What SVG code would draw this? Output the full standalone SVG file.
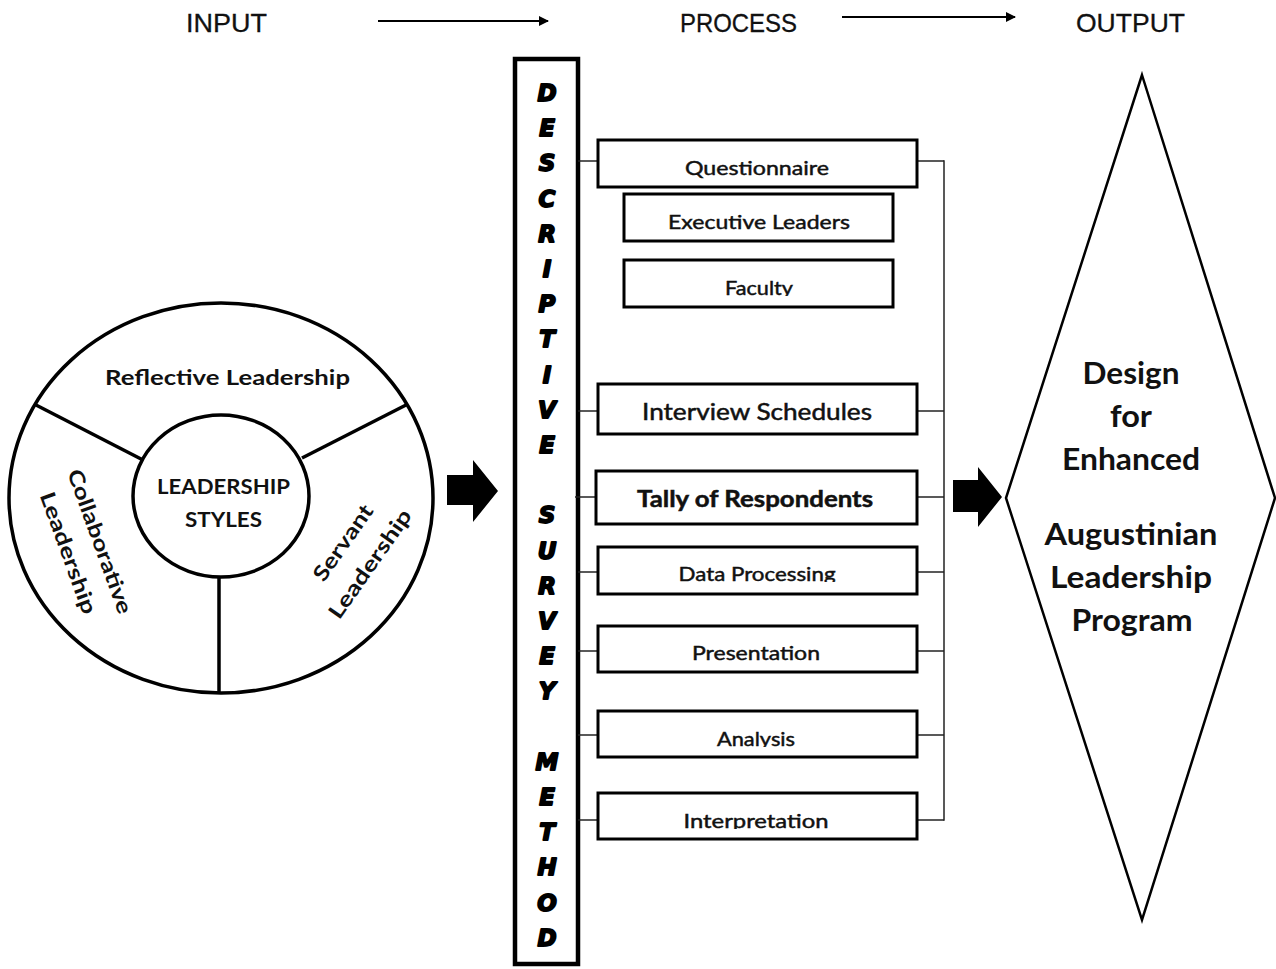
<svg xmlns="http://www.w3.org/2000/svg" width="1276" height="969" viewBox="0 0 1276 969">
<style>
.hdr{font-family:"Liberation Sans",Arial,sans-serif;font-size:26px;fill:#111;stroke:#111;stroke-width:0.3}
.box{fill:#fff;stroke:#000;stroke-width:3}
.bt{font-family:Lato,"Open Sans",sans-serif;font-size:19px;fill:#111;stroke:#111;stroke-width:0.45;text-anchor:middle}
.bt2{font-family:Lato,"Open Sans",sans-serif;font-size:23px;fill:#111;stroke:#111;stroke-width:0.5;text-anchor:middle}
.ct{font-family:Lato,"Open Sans",sans-serif;font-size:21px;font-weight:700;fill:#111;text-anchor:middle}
.dt{font-family:Lato,"Open Sans",sans-serif;font-size:30px;font-weight:700;fill:#111;text-anchor:middle}
.vl{font-family:"DejaVu Sans",sans-serif;font-size:23px;font-weight:bold;font-style:oblique;fill:#000;stroke:#000;stroke-width:1.8;stroke-linejoin:round;text-anchor:middle}
.ln{stroke:#222;stroke-width:1.5;fill:none}
.sh{fill:none;stroke:#000;stroke-width:3.5}
</style>
<defs>
<marker id="ah" viewBox="0 0 10 10" refX="9" refY="5" markerWidth="5" markerHeight="5" orient="auto" markerUnits="strokeWidth">
<path d="M0,0 L10,5 L0,10 z" fill="#000"/>
</marker>
<clipPath id="cFac"><rect x="600" y="262" width="300" height="34"/></clipPath>
<clipPath id="cData"><rect x="600" y="549" width="300" height="33"/></clipPath>
<clipPath id="cAna"><rect x="600" y="713" width="300" height="34"/></clipPath>
<clipPath id="cInt"><rect x="600" y="795" width="300" height="34"/></clipPath>
</defs>

<g id="header">
<text class="hdr" x="186" y="32" textLength="81" lengthAdjust="spacingAndGlyphs">INPUT</text>
<text class="hdr" x="680" y="32" textLength="117" lengthAdjust="spacingAndGlyphs">PROCESS</text>
<text class="hdr" x="1076" y="32" textLength="109" lengthAdjust="spacingAndGlyphs">OUTPUT</text>
<line x1="378" y1="21" x2="548" y2="21" stroke="#000" stroke-width="2" marker-end="url(#ah)"/>
<line x1="842" y1="17" x2="1015" y2="17" stroke="#000" stroke-width="2" marker-end="url(#ah)"/>
</g>

<g id="leadership-styles">
<ellipse class="sh" cx="221" cy="498" rx="212" ry="195"/>
<line class="sh" x1="36" y1="405" x2="143" y2="460"/>
<line class="sh" x1="406" y1="405" x2="302" y2="458"/>
<line class="sh" x1="219" y1="577" x2="219" y2="692"/>
<ellipse class="sh" cx="221" cy="496" rx="88" ry="81" fill="#fff"/>
<text class="ct" x="227.5" y="385" textLength="245" lengthAdjust="spacingAndGlyphs">Reflective Leadership</text>
<text class="ct" x="223.5" y="494" textLength="133" lengthAdjust="spacingAndGlyphs" font-size="20">LEADERSHIP</text>
<text class="ct" x="223.5" y="527" textLength="77" lengthAdjust="spacingAndGlyphs" font-size="20">STYLES</text>
<text class="ct" font-size="23" transform="translate(93 544) rotate(70)" textLength="152" lengthAdjust="spacingAndGlyphs">Collaborative</text>
<text class="ct" font-size="23" transform="translate(61.5 555.5) rotate(70)" textLength="128" lengthAdjust="spacingAndGlyphs">Leadership</text>
<text class="ct" font-size="23" transform="translate(349 547) rotate(-55)" textLength="88" lengthAdjust="spacingAndGlyphs">Servant</text>
<text class="ct" font-size="23" transform="translate(376 568) rotate(-55)" textLength="128" lengthAdjust="spacingAndGlyphs">Leadership</text>
</g>

<g id="arrow-left">
<path d="M447,475 H473 V460 L498,491 L473,522 V505 H447 Z" fill="#000"/>
</g>

<g id="descriptive-survey-method">
<rect x="515" y="59" width="63" height="905" fill="#fff" stroke="#000" stroke-width="4.5"/>
<text class="vl">
<tspan x="547" y="101">D</tspan><tspan x="547" y="136.2">E</tspan><tspan x="547" y="171.4">S</tspan><tspan x="547" y="206.6">C</tspan><tspan x="547" y="241.8">R</tspan><tspan x="547" y="277">I</tspan><tspan x="547" y="312.2">P</tspan><tspan x="547" y="347.4">T</tspan><tspan x="547" y="382.6">I</tspan><tspan x="547" y="417.8">V</tspan><tspan x="547" y="453">E</tspan><tspan x="547" y="523.4">S</tspan><tspan x="547" y="558.6">U</tspan><tspan x="547" y="593.8">R</tspan><tspan x="547" y="629">V</tspan><tspan x="547" y="664.2">E</tspan><tspan x="547" y="699.4">Y</tspan><tspan x="547" y="769.8">M</tspan><tspan x="547" y="805">E</tspan><tspan x="547" y="840.2">T</tspan><tspan x="547" y="875.4">H</tspan><tspan x="547" y="910.6">O</tspan><tspan x="547" y="945.8">D</tspan>
</text>
</g>

<g id="connectors">
<line class="ln" x1="578" y1="161" x2="598" y2="161"/>
<line class="ln" x1="578" y1="411" x2="598" y2="411"/>
<line class="ln" x1="575" y1="497" x2="596" y2="497"/>
<line class="ln" x1="578" y1="572" x2="598" y2="572"/>
<line class="ln" x1="578" y1="651" x2="598" y2="651"/>
<line class="ln" x1="578" y1="735" x2="598" y2="735"/>
<line class="ln" x1="578" y1="820" x2="598" y2="820"/>
<line class="ln" x1="917" y1="161" x2="944" y2="161"/>
<line class="ln" x1="917" y1="411" x2="944" y2="411"/>
<line class="ln" x1="917" y1="497" x2="944" y2="497"/>
<line class="ln" x1="917" y1="572" x2="944" y2="572"/>
<line class="ln" x1="917" y1="651" x2="944" y2="651"/>
<line class="ln" x1="917" y1="735" x2="944" y2="735"/>
<line class="ln" x1="917" y1="820" x2="944" y2="820"/>
<line class="ln" x1="944" y1="160.25" x2="944" y2="820.75"/>
</g>

<g id="questionnaire"><rect class="box" x="598" y="140" width="319" height="47"/><text class="bt" x="757" y="175" textLength="144" lengthAdjust="spacingAndGlyphs">Questionnaire</text></g>
<g id="executive-leaders"><rect class="box" x="624" y="194" width="269" height="47"/><text class="bt" x="759" y="229" textLength="182" lengthAdjust="spacingAndGlyphs">Executive Leaders</text></g>
<g id="faculty"><rect class="box" x="624" y="260" width="269" height="47"/><text class="bt" x="759" y="295" textLength="68" lengthAdjust="spacingAndGlyphs" clip-path="url(#cFac)">Faculty</text></g>
<g id="interview-schedules"><rect class="box" x="598" y="384" width="319" height="50"/><text class="bt2" x="757" y="420" textLength="230" lengthAdjust="spacingAndGlyphs">Interview Schedules</text></g>
<g id="tally-of-respondents"><rect class="box" x="596" y="471" width="321" height="53"/><text class="bt2" x="755" y="507" textLength="236" lengthAdjust="spacingAndGlyphs" font-weight="700" stroke-width="0.2">Tally of Respondents</text></g>
<g id="data-processing"><rect class="box" x="598" y="547" width="319" height="47"/><text class="bt" x="757" y="581" textLength="157" lengthAdjust="spacingAndGlyphs" clip-path="url(#cData)">Data Processing</text></g>
<g id="presentation"><rect class="box" x="598" y="626" width="319" height="46"/><text class="bt" x="756" y="660" textLength="128" lengthAdjust="spacingAndGlyphs">Presentation</text></g>
<g id="analysis"><rect class="box" x="598" y="711" width="319" height="46"/><text class="bt" x="756" y="746" textLength="78" lengthAdjust="spacingAndGlyphs" clip-path="url(#cAna)">Analysis</text></g>
<g id="interpretation"><rect class="box" x="598" y="793" width="319" height="46"/><text class="bt" x="756" y="828" textLength="145" lengthAdjust="spacingAndGlyphs" clip-path="url(#cInt)">Interpretation</text></g>

<g id="arrow-right">
<path d="M953,480 H978 V467 L1002,497 L978,527 V512 H953 Z" fill="#000"/>
</g>

<g id="output-program">
<polygon points="1142,75 1275,498 1142,920 1006,498" fill="#fff" stroke="#000" stroke-width="2.5" stroke-linejoin="miter"/>
<text class="dt" x="1131" y="384" textLength="97" lengthAdjust="spacingAndGlyphs">Design</text>
<text class="dt" x="1131" y="427" textLength="42" lengthAdjust="spacingAndGlyphs">for</text>
<text class="dt" x="1131" y="470" textLength="138" lengthAdjust="spacingAndGlyphs">Enhanced</text>
<text class="dt" x="1131" y="545" textLength="173" lengthAdjust="spacingAndGlyphs">Augustinian</text>
<text class="dt" x="1131" y="588" textLength="162" lengthAdjust="spacingAndGlyphs">Leadership</text>
<text class="dt" x="1132" y="631" textLength="121" lengthAdjust="spacingAndGlyphs">Program</text>
</g>
</svg>
